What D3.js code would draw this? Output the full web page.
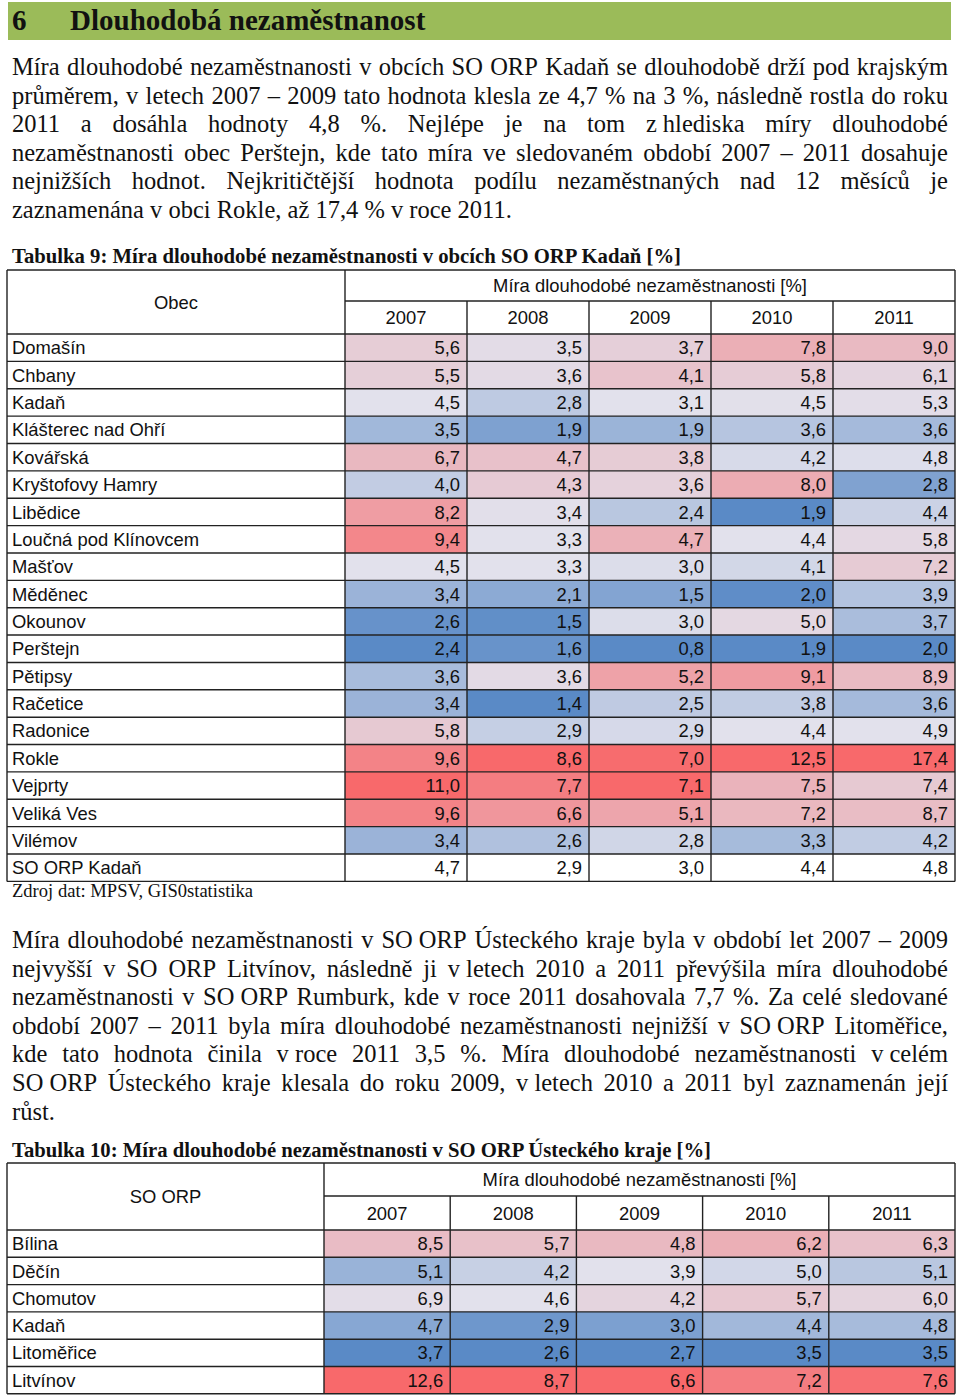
<!DOCTYPE html>
<html><head><meta charset="utf-8">
<script src="https://cdn.jsdelivr.net/npm/d3@7"></script>
<style>body{margin:0;background:#fff}</style>
</head><body>
<svg id="c" width="960" height="1397"></svg>
<script>
// ---------------- DATA ----------------
const years = ["2007", "2008", "2009", "2010", "2011"];

const heading = ["6", "Dlouhodobá nezaměstnanost"];

const para1 = [
  "Míra dlouhodobé nezaměstnanosti v obcích SO ORP Kadaň se dlouhodobě drží pod krajským",
  "průměrem, v letech 2007 – 2009 tato hodnota klesla ze 4,7 % na 3 %, následně rostla do roku",
  "2011 a dosáhla hodnoty 4,8 %. Nejlépe je na tom z\u00a0hlediska míry dlouhodobé",
  "nezaměstnanosti obec Perštejn, kde tato míra ve sledovaném období 2007 – 2011 dosahuje",
  "nejnižších hodnot. Nejkritičtější hodnota podílu nezaměstnaných nad 12 měsíců je",
  "zaznamenána v obci Rokle, až 17,4 % v roce 2011."
];

const caption1 = "Tabulka 9: Míra dlouhodobé nezaměstnanosti v obcích SO ORP Kadaň [%]";
const headerLabel1 = "Obec";
const groupLabel = "Míra dlouhodobé nezaměstnanosti [%]";

const municipalities = ["Domašín", "Chbany", "Kadaň", "Klášterec nad Ohří", "Kovářská",
  "Kryštofovy Hamry", "Libědice", "Loučná pod Klínovcem", "Mašťov", "Měděnec", "Okounov",
  "Perštejn", "Pětipsy", "Račetice", "Radonice", "Rokle", "Vejprty", "Veliká Ves", "Vilémov",
  "SO ORP Kadaň"];
const t1_2007 = [5.6, 5.5, 4.5, 3.5, 6.7, 4.0, 8.2, 9.4, 4.5, 3.4, 2.6, 2.4, 3.6, 3.4, 5.8, 9.6, 11.0, 9.6, 3.4, 4.7];
const t1_2008 = [3.5, 3.6, 2.8, 1.9, 4.7, 4.3, 3.4, 3.3, 3.3, 2.1, 1.5, 1.6, 3.6, 1.4, 2.9, 8.6, 7.7, 6.6, 2.6, 2.9];
const t1_2009 = [3.7, 4.1, 3.1, 1.9, 3.8, 3.6, 2.4, 4.7, 3.0, 1.5, 3.0, 0.8, 5.2, 2.5, 2.9, 7.0, 7.1, 5.1, 2.8, 3.0];
const t1_2010 = [7.8, 5.8, 4.5, 3.6, 4.2, 8.0, 1.9, 4.4, 4.1, 2.0, 5.0, 1.9, 9.1, 3.8, 4.4, 12.5, 7.5, 7.2, 3.3, 4.4];
const t1_2011 = [9.0, 6.1, 5.3, 3.6, 4.8, 2.8, 4.4, 5.8, 7.2, 3.9, 3.7, 2.0, 8.9, 3.6, 4.9, 17.4, 7.4, 8.7, 4.2, 4.8];
const t1Total = "SO ORP Kadaň"; // summary row, not colour-scaled

const source1 = "Zdroj dat: MPSV, GIS0statistika";

const para2 = [
  "Míra dlouhodobé nezaměstnanosti v SO\u00a0ORP Ústeckého kraje byla v období let 2007 – 2009",
  "nejvyšší v SO ORP Litvínov, následně ji v\u00a0letech 2010 a 2011 převýšila míra dlouhodobé",
  "nezaměstnanosti v SO\u00a0ORP Rumburk, kde v roce 2011 dosahovala 7,7 %. Za celé sledované",
  "období 2007 – 2011 byla míra dlouhodobé nezaměstnanosti nejnižší v SO\u00a0ORP Litoměřice,",
  "kde tato hodnota činila v\u00a0roce 2011 3,5 %. Míra dlouhodobé nezaměstnanosti v\u00a0celém",
  "SO\u00a0ORP Ústeckého kraje klesala do roku 2009, v\u00a0letech 2010 a 2011 byl zaznamenán její",
  "růst."
];

const caption2 = "Tabulka 10: Míra dlouhodobé nezaměstnanosti v SO ORP Ústeckého kraje [%]";
const headerLabel2 = "SO ORP";
const regions = ["Bílina", "Děčín", "Chomutov", "Kadaň", "Litoměřice", "Litvínov"];
const t2_2007 = [8.5, 5.1, 6.9, 4.7, 3.7, 12.6];
const t2_2008 = [5.7, 4.2, 4.6, 2.9, 2.6, 8.7];
const t2_2009 = [4.8, 3.9, 4.2, 3.0, 2.7, 6.6];
const t2_2010 = [6.2, 5.0, 5.7, 4.4, 3.5, 7.2];
const t2_2011 = [6.3, 5.1, 6.0, 4.8, 3.5, 7.6];
// colour-scale min / midpoint / max per year (the table continues beyond the page)
const t2Min = [3.7, 2.6, 2.7, 3.5, 3.5];
const t2Mid = [6.7, 4.6, 3.9, 5.2, 5.8];
const t2Max = [12.6, 8.7, 6.6, 7.6, 7.7];

// ---------------- DRAWING ----------------
const svg = d3.select("#c");
const SERIF = "'Liberation Serif','Times New Roman',serif";
const SANS = "'Liberation Sans',Arial,sans-serif";
const LOW = "#5A8AC6", MIDC = "#E2E1EC", HIGH = "#F8696B";
const fmt = v => d3.format(".1f")(v).replace(".", ",");

// heading bar
svg.append("rect").attr("x", 8).attr("y", 2).attr("width", 943).attr("height", 38).attr("fill", "#9BBB59");
svg.append("text").attr("x", 12).attr("y", 30).attr("font-family", SERIF).attr("font-weight", "bold")
  .attr("font-size", 29).attr("fill", "#111").text(heading[0]);
svg.append("text").attr("x", 70).attr("y", 30).attr("font-family", SERIF).attr("font-weight", "bold")
  .attr("font-size", 29).attr("fill", "#111").text(heading[1]);

// justified paragraph
function paragraph(lines, x, y0, lh, width, size) {
  const g = svg.append("g").attr("font-family", SERIF).attr("font-size", size).attr("fill", "#111");
  const probe = g.append("text").attr("visibility", "hidden");
  const measure = s => { probe.text(s); return probe.node().getComputedTextLength(); };
  const spaceW = measure("a b") - measure("ab");
  lines.forEach((line, i) => {
    const y = y0 + i * lh;
    const last = i === lines.length - 1;
    const t = g.append("text").attr("y", y);
    if (last) { t.attr("x", x).text(line); return; }
    const words = line.split(" ");
    const ws = words.map(measure);
    const sum = d3.sum(ws);
    const gap = (width - sum) / (words.length - 1);
    if (gap < spaceW * 0.7) {
      t.attr("x", x).attr("textLength", width).attr("lengthAdjust", "spacingAndGlyphs").text(line);
    } else {
      let cx = x;
      words.forEach((w, k) => {
        t.append("tspan").attr("x", cx).text(w);
        cx += ws[k] + gap;
      });
    }
  });
  probe.remove();
}

function fitText(str, x, y, width, size, weight) {
  const t = svg.append("text").attr("x", x).attr("y", y).attr("font-family", SERIF)
    .attr("font-size", size).attr("font-weight", weight).attr("fill", "#111").text(str);
  if (width) t.attr("textLength", width).attr("lengthAdjust", "spacingAndGlyphs");
  return t;
}

function drawTable(cfg) {
  const g = svg.append("g").attr("font-family", SANS).attr("font-size", 18.4).attr("fill", "#111");
  const x = d3.scaleBand().domain(years).range([cfg.colStart, cfg.right]);
  const bodyTop = cfg.headBottom;
  const y = d3.scaleBand().domain(cfg.names).range([bodyTop, bodyTop + cfg.names.length * cfg.rowH]);
  const bottom = bodyTop + cfg.names.length * cfg.rowH;

  // cells
  cfg.names.forEach((name, r) => {
    years.forEach((yr, c) => {
      const v = cfg.series[c][r];
      const fill = cfg.uncolored.includes(name) ? "#fff" : cfg.scales[c](v);
      g.append("rect").attr("x", x(yr)).attr("y", y(name)).attr("width", x.bandwidth())
        .attr("height", y.bandwidth()).attr("fill", fill);
      g.append("text").attr("x", x(yr) + x.bandwidth() - 7).attr("y", y(name) + y.bandwidth() / 2 + 6.6)
        .attr("text-anchor", "end").text(fmt(v));
    });
    g.append("text").attr("x", cfg.left + 5).attr("y", y(name) + y.bandwidth() / 2 + 6.6).text(name);
  });

  // headers
  g.append("text").attr("x", (cfg.left + cfg.colStart) / 2).attr("y", (cfg.top + bodyTop) / 2 + 6.6)
    .attr("text-anchor", "middle").text(cfg.headLabel);
  g.append("text").attr("x", (cfg.colStart + cfg.right) / 2).attr("y", (cfg.top + cfg.headMid) / 2 + 6.6)
    .attr("text-anchor", "middle").text(groupLabel);
  years.forEach(yr => {
    g.append("text").attr("x", x(yr) + x.bandwidth() / 2).attr("y", (cfg.headMid + bodyTop) / 2 + 6.6)
      .attr("text-anchor", "middle").text(yr);
  });

  // grid lines
  const L = g.append("g").attr("stroke", "#222").attr("stroke-width", 1.4).attr("fill", "none");
  const hl = (x1, x2, yy) => L.append("line").attr("x1", x1).attr("x2", x2).attr("y1", yy).attr("y2", yy);
  const vl = (xx, y1, y2) => L.append("line").attr("x1", xx).attr("x2", xx).attr("y1", y1).attr("y2", y2);
  hl(cfg.left, cfg.right, cfg.top);
  hl(cfg.colStart, cfg.right, cfg.headMid);
  cfg.names.forEach(n => hl(cfg.left, cfg.right, y(n)));
  hl(cfg.left, cfg.right, bottom);
  vl(cfg.left, cfg.top, bottom);
  vl(cfg.colStart, cfg.top, bottom);
  years.slice(1).forEach(yr => vl(x(yr), cfg.headMid, bottom));
  vl(cfg.right, cfg.top, bottom);
}

paragraph(para1, 12, 75, 28.6, 936, 24.5);

fitText(caption1, 12, 263, 669, 20, "bold");

const t1Series = [t1_2007, t1_2008, t1_2009, t1_2010, t1_2011];
const t1Scales = t1Series.map(s => {
  const vals = s.filter((v, i) => municipalities[i] !== t1Total);
  return d3.scaleLinear()
    .domain([d3.min(vals), d3.median(vals), d3.max(vals)])
    .range([LOW, MIDC, HIGH]).interpolate(d3.interpolateRgb);
});
drawTable({
  top: 270, headMid: 301, headBottom: 334, rowH: 27.37,
  left: 7, colStart: 345, right: 955,
  names: municipalities, series: t1Series, scales: t1Scales,
  uncolored: [t1Total], headLabel: headerLabel1
});

fitText(source1, 12, 897, 241, 18.5, "normal");

paragraph(para2, 12, 948, 28.6, 936, 24.5);

fitText(caption2, 12, 1157, 699, 20, "bold");

const t2Series = [t2_2007, t2_2008, t2_2009, t2_2010, t2_2011];
const t2Scales = years.map((yr, i) => d3.scaleLinear()
  .domain([t2Min[i], t2Mid[i], t2Max[i]]).range([LOW, MIDC, HIGH]).interpolate(d3.interpolateRgb).clamp(true));
drawTable({
  top: 1163, headMid: 1196, headBottom: 1230, rowH: 27.3,
  left: 7, colStart: 324, right: 955,
  names: regions, series: t2Series, scales: t2Scales,
  uncolored: [], headLabel: headerLabel2
});
</script>
</body></html>
